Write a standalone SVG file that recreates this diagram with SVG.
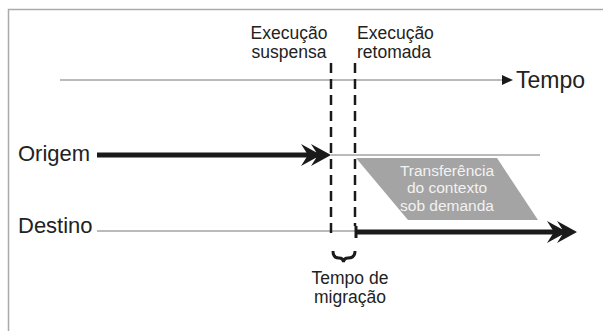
<svg xmlns="http://www.w3.org/2000/svg" width="603" height="331" viewBox="0 0 603 331">
<style>
text{font-family:"Liberation Sans",Arial,sans-serif;fill:#222}
.thin{stroke:#777;stroke-width:1;fill:none}
.thick{stroke:#1a1a1a;stroke-width:5;fill:none}
.dash{stroke:#1a1a1a;stroke-width:2.5;stroke-dasharray:10 6;fill:none}
.lbl{font-size:17.5px}
.big{font-size:22px}
.box{font-size:15.5px;fill:#f2f2f2}
</style>
<defs>
<path id="dbl" d="M0,0 L-20,-11 L-13,0 L-20,11 Z M-10,0 L-30,-11 L-23,0 L-30,11 Z" fill="#1a1a1a"/>
</defs>
<rect width="603" height="331" fill="#fff"/>
<path d="M8.5,331 V9.5 H603" stroke="#aaa" stroke-width="1.5" fill="none"/>
<g id="connectors">
<line class="thin" x1="60" y1="80" x2="505" y2="80" stroke="#555"/>
<polygon points="513,80 502,75 502,85" fill="#1a1a1a"/>
<line class="thick" x1="97" y1="155" x2="322" y2="155"/>
<use href="#dbl" x="331" y="155"/>
<line class="thin" x1="331" y1="155" x2="540" y2="155"/>
<line class="thin" x1="97" y1="231" x2="355" y2="231"/>
<line class="thick" x1="355" y1="232" x2="568" y2="232"/>
<use href="#dbl" x="577" y="232"/>
<line x1="356" y1="226" x2="356" y2="238" stroke="#1a1a1a" stroke-width="3"/>
<line class="dash" x1="331" y1="63" x2="331" y2="239"/>
<line class="dash" x1="355" y1="63" x2="355" y2="226"/>
<path d="M333,251 Q333,258 339,258 Q343,258 343.5,262 Q344,258 348,258 Q355,258 355,251" stroke="#1a1a1a" stroke-width="3" fill="none"/>
</g>
<g id="suspensa">
<text class="lbl" x="289" y="39" text-anchor="middle">Execução</text>
<text class="lbl" x="289" y="58" text-anchor="middle">suspensa</text>
</g>
<g id="retomada">
<text class="lbl" x="357" y="39">Execução</text>
<text class="lbl" x="357" y="58">retomada</text>
</g>
<g id="tempo">
<text x="516" y="88" font-size="23px">Tempo</text>
</g>
<g id="origem">
<text class="big" x="18" y="161">Origem</text>
</g>
<g id="destino">
<text class="big" x="18" y="233">Destino</text>
</g>
<g id="transferencia">
<polygon points="356,158 497,158 538,220 408,220" fill="#a4a4a4"/>
<text class="box" x="447" y="176" text-anchor="middle">Transferência</text>
<text class="box" x="447" y="193" text-anchor="middle">do contexto</text>
<text class="box" x="447" y="211" text-anchor="middle">sob demanda</text>
</g>
<g id="migracao">
<text class="lbl" x="350" y="284" text-anchor="middle">Tempo de</text>
<text class="lbl" x="350" y="303" text-anchor="middle">migração</text>
</g>
</svg>
